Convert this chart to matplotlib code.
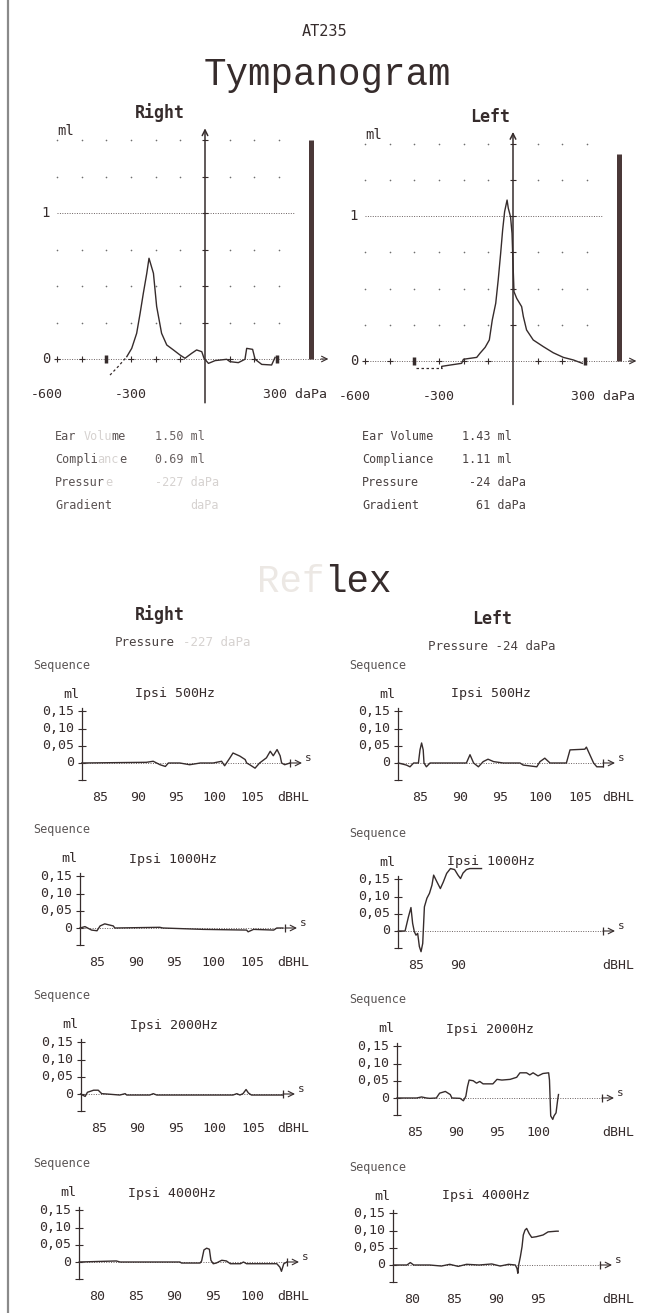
import numpy as np
import matplotlib
matplotlib.use("Agg")
import matplotlib.pyplot as plt

## DATA

# tympanograms: pressure (daPa) vs compliance (ml)
tymp_right_x = [-385, -351, -317, -297, -277, -263, -250, -236, -227, -209, -196, -176, -155, -128,
                -101, -81, -54, -34, -13, -4, 14, 41, 88, 101, 135, 162, 169, 193, 203, 230, 270, 284]
tymp_right_y = [-0.11, -0.05, 0.016, 0.073, 0.176, 0.313, 0.45, 0.587, 0.69, 0.587, 0.36, 0.176, 0.096,
                0.062, 0.027, 0.005, 0.039, 0.062, 0.05, 0.005, -0.03, -0.011, -0.002, -0.018, -0.025,
                -0.002, 0.073, 0.066, -0.002, -0.037, -0.041, 0.011]
tymp_left_x = [-393, -289, -289, -255, -208, -201, -147, -134, -113, -96, -84, -70, -60, -50, -42, -34,
               -24, -19, -10, -4, 0, 4, 15, 35, 42, 55, 82, 123, 163, 204, 245, 281]
tymp_left_y = [-0.05, -0.05, -0.037, -0.028, -0.016, 0.012, 0.025, 0.053, 0.094, 0.145, 0.283, 0.398,
               0.559, 0.743, 0.903, 1.03, 1.11, 1.053, 0.995, 0.881, 0.674, 0.478, 0.432, 0.375, 0.306,
               0.214, 0.145, 0.099, 0.057, 0.025, 0.007, -0.016]
ear_volume = {"right": 1.50, "left": 1.43}

results_labels = ["Ear Volume", "Compliance", "Pressure", "Gradient"]
results_right = ["1.50 ml", "0.69 ml", "-227 daPa", "daPa"]
results_left = ["1.43 ml", "1.11 ml", "-24 daPa", "61 daPa"]

# acoustic reflex traces: stimulus level (dBHL, along the time axis) vs ml
r500_x = [82.6, 91.1, 92.0, 92.9, 93.6, 94.0, 95.5, 96.8, 98.2, 99.9, 101.0, 101.4, 102.1, 102.5, 103.4,
          104.1, 104.3, 104.7, 105.4, 106.0, 106.9, 107.4, 107.8, 108.3, 108.7, 108.9, 109.3, 110.0]
r500_y = [0, 0.002, 0.005, -0.005, -0.01, 0, 0, -0.005, 0, 0, 0.005, -0.008, 0.015, 0.029, 0.02, 0.01,
          0, -0.005, -0.015, 0, 0.015, 0.034, 0.021, 0.039, 0.021, 0, -0.005, 0]
r1000_x = [82.8, 83.45, 84.3, 85.0, 85.4, 86.0, 87.1, 87.3, 93.1, 93.5, 98.7, 104.3, 104.5, 105.2,
           107.8, 108.2, 109.0]
r1000_y = [0, 0.004, -0.006, -0.008, 0.006, 0.012, 0.006, 0, 0.002, 0, -0.004, -0.006, -0.011, -0.004,
           -0.006, 0, 0]
r2000_x = [82.6, 83.2, 83.5, 84.3, 84.9, 85.35, 86.0, 87.7, 88.4, 88.6, 91.6, 92.05, 92.5, 102.4, 102.9,
           103.3, 103.7, 104.1, 104.4, 104.8, 108.9]
r2000_y = [0, -0.007, 0.005, 0.011, 0.011, 0.001, 0, -0.003, 0.001, -0.003, -0.003, 0.001, -0.003,
           -0.003, 0.001, -0.003, 0.001, 0.013, 0.003, -0.003, -0.003]
r4000_x = [77.7, 82.5, 82.97, 90.7, 90.9, 93.3, 93.5, 93.8, 94.15, 94.5, 94.7, 95.0, 95.4, 96.1, 96.7,
           97.2, 98.5, 98.9, 99.3, 103.2, 103.6, 103.8, 104.1, 104.5]
r4000_y = [0, 0.003, 0, 0, -0.003, -0.003, 0.003, 0.035, 0.04, 0.037, 0.005, -0.005, -0.003, 0.005,
           0.003, -0.005, -0.005, 0, -0.005, -0.005, -0.015, -0.027, -0.005, 0]
l500_x = [82.3, 83.3, 83.75, 84.2, 84.8, 85.0, 85.2, 85.4, 85.5, 85.8, 86.25, 90.8, 91.25, 91.7, 92.3,
          92.9, 93.5, 94.2, 95.4, 97.5, 97.9, 99.6, 100.0, 100.6, 101.25, 103.3, 103.75, 105.6, 105.8,
          106.7, 107.1, 107.9]
l500_y = [0, -0.006, -0.011, 0, 0, 0.038, 0.058, 0.038, 0, -0.011, 0, 0, 0.024, 0, -0.011, 0.004, 0.011,
          0.004, 0, 0, -0.006, -0.011, 0.004, 0.014, 0, 0, 0.038, 0.04, 0.046, 0, -0.011, -0.011]
l1000_x = [82.9, 83.7, 84.1, 84.4, 84.6, 84.8, 85.0, 85.2, 85.4, 85.6, 85.8, 86.0, 86.3, 86.6, 86.9,
           87.1, 87.5, 87.9, 88.25, 88.65, 89.1, 89.6, 90.0, 90.3, 90.6, 91.0, 91.4, 92.8]
l1000_y = [0, 0, 0.041, 0.068, 0.022, -0.002, -0.012, -0.007, -0.045, -0.06, -0.036, 0.07, 0.095, 0.109,
           0.133, 0.162, 0.142, 0.123, 0.142, 0.167, 0.181, 0.178, 0.162, 0.152, 0.168, 0.178, 0.181, 0.181]
l2000_x = [82.8, 85.2, 85.8, 86.4, 86.8, 87.6, 88.0, 88.7, 89.3, 89.5, 90.5, 90.9, 91.2, 91.4, 91.6,
           92.1, 92.5, 92.9, 93.3, 94.5, 95.0, 95.6, 96.6, 97.4, 97.8, 98.6, 99.0, 99.4, 100.0, 100.6,
           101.3, 101.4, 101.55, 101.8, 101.95, 102.2, 102.4, 102.5]
l2000_y = [0, 0, 0.003, 0, -0.001, 0, 0.014, 0.019, 0.01, 0, -0.001, -0.008, 0.005, 0.033, 0.052, 0.05,
           0.043, 0.048, 0.041, 0.041, 0.054, 0.052, 0.054, 0.06, 0.073, 0.073, 0.067, 0.073, 0.064,
           0.071, 0.073, 0.052, -0.052, -0.062, -0.052, -0.043, -0.005, 0.01]
l4000_x = [77.8, 79.4, 79.8, 80.2, 82.1, 83.5, 84.5, 85.5, 86.5, 88.0, 89.5, 90.5, 91.5, 92.3, 92.5,
           92.6, 92.7, 92.9, 93.1, 93.25, 93.45, 93.65, 93.95, 94.25, 94.8, 95.6, 96.2, 97.2, 97.4]
l4000_y = [0, 0, 0.007, 0, 0, -0.003, 0.002, -0.004, 0.002, 0, 0.003, -0.003, 0.002, 0, -0.01, -0.024,
           0, 0.024, 0.053, 0.087, 0.101, 0.106, 0.091, 0.08, 0.082, 0.087, 0.096, 0.098, 0.098]

ticks_full = [85, 90, 95, 100, 105]
ticks_low = [80, 85, 90, 95, 100]
ml_ticks = [0.15, 0.10, 0.05, 0]
ml_tick_labels = ["0,15", "0,10", "0,05", "0"]

## LAYOUT (pixel calibration of the printout)
W, H = 649, 1313
ink = "#362c2c"
grey_ink = "#4a4242"
faint = "#d6d2d0"
mono = "DejaVu Sans Mono"

# title, x, y, ticks, zero_px, axis_px, label0_px, px_per_dB, end_px, col
reflex_panels = [
    ("Ipsi 500Hz", r500_x, r500_y, ticks_full, 763, 82, 100, 7.6, 290, "R"),
    ("Ipsi 1000Hz", r1000_x, r1000_y, ticks_full, 928, 80, 97, 7.75, 285, "R"),
    ("Ipsi 2000Hz", r2000_x, r2000_y, ticks_full, 1094, 81, 99, 7.7, 283, "R"),
    ("Ipsi 4000Hz", r4000_x, r4000_y, ticks_low, 1262, 79, 97, 7.75, 287, "R"),
    ("Ipsi 500Hz", l500_x, l500_y, ticks_full, 763, 398, 420, 8.0, 603, "L"),
    ("Ipsi 1000Hz", l1000_x, l1000_y, [85, 90], 931, 398, 416, 8.4, 603, "L"),
    ("Ipsi 2000Hz", l2000_x, l2000_y, [85, 90, 95, 100], 1098, 397, 415, 8.2, 602, "L"),
    ("Ipsi 4000Hz", l4000_x, l4000_y, [80, 85, 90, 95], 1265, 393, 412, 8.4, 600, "L"),
]

fig = plt.figure(figsize=(W / 100, H / 100), dpi=100)
fig.patch.set_facecolor("white")


def ftext(x, y, s, **kw):
    kw.setdefault("family", mono)
    kw.setdefault("color", ink)
    kw.setdefault("va", "center")
    fig.text(x / W, 1 - y / H, s, **kw)


def seg_text(x, y, parts, size, family=mono, adv=0.6021):
    # monospaced line written in pieces, so faded pieces can get their own colour
    step = adv * size * 100 / 72
    col = 0
    for s, c in parts:
        lead = len(s) - len(s.lstrip(" "))
        if s.strip():
            ftext(x + (col + lead) * step, y, s.strip(), fontsize=size, color=c, family=family)
        col += len(s)


def panel(box, xref, xref_px, sx, yref, yref_px, sy):
    l, t, r, b = box
    ax = fig.add_axes([l / W, 1 - b / H, (r - l) / W, (b - t) / H])
    ax.set_xlim(xref + (l - xref_px) / sx, xref + (r - xref_px) / sx)
    ax.set_ylim(yref + (yref_px - b) / sy, yref + (yref_px - t) / sy)
    ax.set_facecolor("none")
    ax.axis("off")
    return ax


# page border of the scan
fig.add_artist(plt.Line2D([8 / W, 8 / W], [0, 1], color="#8a8a8a", lw=1.6))

# headers
ftext(325, 32, "AT235", ha="center", fontsize=11)
ftext(327, 75, "Tympanogram", ha="center", fontsize=27, family="Liberation Mono")
ftext(160, 113, "Right", ha="center", fontsize=12, weight="bold")
ftext(490, 117, "Left", ha="center", fontsize=12, weight="bold")


def tymp(ax, x, y, vol, n_dash):
    gx = [v for v in range(-600, 301, 100) if v != 0]
    for gy in [0.25, 0.5, 0.75, 1.25, 1.5]:
        ax.scatter(gx, [gy] * len(gx), s=1.4, color="#6f6f6f", lw=0)
    ax.plot([-600, 360], [1, 1], ls=(0, (1, 1.5)), lw=0.7, color="#6a6060")
    ax.plot([-600, 480], [0, 0], ls=(0, (1, 1.5)), lw=0.7, color="#6a6060")
    ax.annotate("", xy=(500, 0), xytext=(470, 0),
                arrowprops=dict(arrowstyle="->", lw=0.8, color=ink, shrinkA=0, shrinkB=0))
    ax.annotate("", xy=(0, 1.58), xytext=(0, -0.3),
                arrowprops=dict(arrowstyle="->", lw=1.1, color=ink, shrinkA=0, shrinkB=0))
    ax.plot([0] * 6, [0.25, 0.5, 0.75, 1, 1.25, 1.5], "_", ms=5, color=ink, mew=0.8)
    ax.plot([-600, -500, -300, -200, -100, 100, 200], [0] * 7, "+", ms=5, color=ink, mew=0.8)
    ax.plot([-400, 290], [0, 0], "|", ms=6, color=ink, mew=2.5)
    ax.plot([430, 430], [0, vol], lw=3.6, color="#4a3838", solid_capstyle="butt")
    ax.plot(x[:n_dash + 1], y[:n_dash + 1], ls=(0, (2, 2)), lw=0.9, color=ink)
    ax.plot(x[n_dash:], y[n_dash:], lw=1.0, color=ink)
    ax.text(-565, 1.56, "ml", family=mono, fontsize=10, color=ink, ha="center", va="center")
    ax.text(-645, 1, "1", family=mono, fontsize=10, color=ink, ha="center", va="center")
    ax.text(-645, 0, "0", family=mono, fontsize=10, color=ink, ha="center", va="center")
    ax.text(-640, -0.245, "-600", family=mono, fontsize=9.5, color=ink, ha="center", va="center")
    ax.text(-300, -0.245, "-300", family=mono, fontsize=9.5, color=ink, ha="center", va="center")
    ax.text(236, -0.245, "300 daPa", family=mono, fontsize=9.5, color=ink, ha="left", va="center")


ax_r = panel((15, 125, 335, 415), 0, 205, 0.2467, 0, 359, 146)
tymp(ax_r, tymp_right_x, tymp_right_y, ear_volume["right"], 2)
ax_l = panel((340, 125, 649, 415), 0, 513, 0.2467, 0, 361, 145)
tymp(ax_l, tymp_left_x, tymp_left_y, ear_volume["left"], 1)

# numeric results (the right ear block is faded on the scan)
rows = [437, 460, 483, 506]
right_parts = [
    [("Ear ", "#5a5252"), ("Volu", faint), ("me", "#5a5252"), ("    " + results_right[0], "#6a6262")],
    [("Compli", "#5a5252"), ("anc", faint), ("e", "#5a5252"), ("    " + results_right[1], "#6a6262")],
    [("Pressur", "#5a5252"), ("e", faint), ("      " + results_right[2], faint)],
    [("Gradient", "#5a5252"), ("           " + results_right[3], faint)],
]
for i, yy in enumerate(rows):
    seg_text(55, yy, right_parts[i], 8.5)
    seg_text(362, yy, [(results_labels[i].ljust(14), grey_ink),
                       (results_left[i].rjust(9 if i >= 2 else 7), grey_ink)], 8.5)

# reflex section
seg_text(257, 582, [("Ref", "#ece8e4"), ("lex", ink)], 27, family="Liberation Mono", adv=0.6)
ftext(160, 615, "Right", ha="center", fontsize=12, weight="bold")
ftext(492, 619, "Left", ha="center", fontsize=12, weight="bold")
seg_text(115, 642, [("Pressure", grey_ink), (" -227 daPa", faint)], 9)
ftext(428, 646, "Pressure -24 daPa", fontsize=9, color=grey_ink)

for title, xs, ys, ticks, zero_px, axis_px, lab_px, sx, end_px, col in reflex_panels:
    lab0 = ticks[0]
    x0 = lab0 + (axis_px - lab_px) / sx
    x_end = lab0 + (end_px - lab_px) / sx
    ax = panel((axis_px - 75, zero_px - 90, axis_px + 250, zero_px + 50), lab0, lab_px, sx, 0, zero_px, 345)
    seq_x = 33 if col == "R" else 349
    ftext(seq_x, zero_px - 98, "Sequence", fontsize=8.5, color="#5a5555")
    ax.plot([x0, x0], [-0.05, 0.16], lw=0.9, color=ink)
    ax.plot([x0] * 5, ml_ticks + [-0.05], "_", ms=6, color=ink, mew=0.8)
    for v, s in zip(ml_ticks, ml_tick_labels):
        ax.text(x0 - 8 / sx, v, s, family=mono, fontsize=9.5, color=ink, ha="right", va="center")
    ax.text(x0 - 11 / sx, 0.2, "ml", family=mono, fontsize=9.5, color=ink, ha="center", va="center")
    ax.text(x0 + 93 / sx, 0.2, title, family=mono, fontsize=9.5, color=ink, ha="center", va="center")
    ax.plot([x0, x_end], [0, 0], ls=(0, (1, 1.5)), lw=0.7, color="#6a6060")
    ax.plot([x_end], [0], "|", ms=6, color=ink, mew=0.9)
    ax.annotate("", xy=(x_end + 12 / sx, 0), xytext=(x_end, 0),
                arrowprops=dict(arrowstyle="->", lw=0.8, color=ink, shrinkA=0, shrinkB=0))
    ax.text(x_end + 18 / sx, 0.014, "s", family=mono, fontsize=8, color=ink, ha="center", va="center")
    for t in ticks:
        ax.text(t, -0.099, str(t), family=mono, fontsize=9.5, color=ink, ha="center", va="center")
    dbhl_px = 293 if col == "R" else 618
    ax.text(lab0 + (dbhl_px - lab_px) / sx, -0.099, "dBHL", family=mono, fontsize=9.5, color=ink,
            ha="center", va="center")
    ax.plot(xs, ys, lw=1.0, color=ink)

fig.savefig("out.png", dpi=100, facecolor="white")
